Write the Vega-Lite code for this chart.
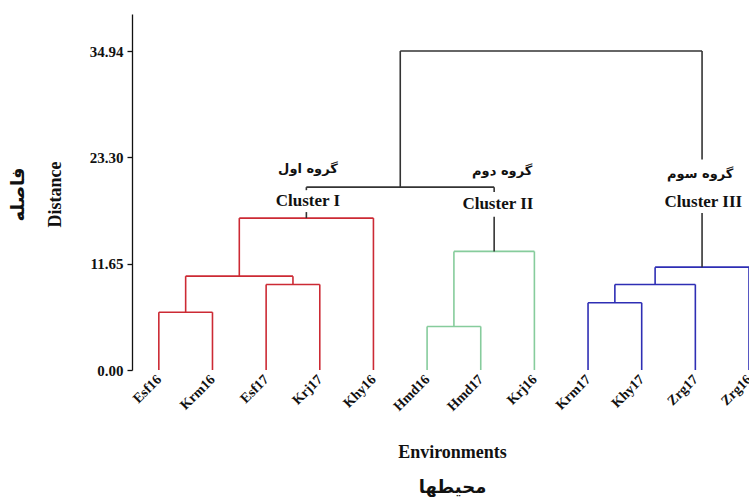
{
  "$schema": "https://vega.github.io/schema/vega-lite/v6.json",
  "autosize": {"type": "none"},
  "padding": {"left": 132, "top": 14, "right": 0, "bottom": 127},
  "width": 617,
  "height": 356,
  "background": "white",
  "config": {"view": {"stroke": null}},
  "datasets": {
    "segs": [
      {"x": 1, "x2": 1, "y": 0, "y2": 6.33, "g": "I"},
      {"x": 2, "x2": 2, "y": 0, "y2": 6.33, "g": "I"},
      {"x": 1, "x2": 2, "y": 6.33, "y2": 6.33, "g": "I"},
      {"x": 3, "x2": 3, "y": 0, "y2": 9.37, "g": "I"},
      {"x": 4, "x2": 4, "y": 0, "y2": 9.37, "g": "I"},
      {"x": 3, "x2": 4, "y": 9.37, "y2": 9.37, "g": "I"},
      {"x": 1.5, "x2": 1.5, "y": 6.33, "y2": 10.28, "g": "I"},
      {"x": 3.5, "x2": 3.5, "y": 9.37, "y2": 10.28, "g": "I"},
      {"x": 1.5, "x2": 3.5, "y": 10.28, "y2": 10.28, "g": "I"},
      {"x": 2.5, "x2": 2.5, "y": 10.28, "y2": 16.64, "g": "I"},
      {"x": 5, "x2": 5, "y": 0, "y2": 16.64, "g": "I"},
      {"x": 2.5, "x2": 5, "y": 16.64, "y2": 16.64, "g": "I"},
      {"x": 6, "x2": 6, "y": 0, "y2": 4.77, "g": "II"},
      {"x": 7, "x2": 7, "y": 0, "y2": 4.77, "g": "II"},
      {"x": 6, "x2": 7, "y": 4.77, "y2": 4.77, "g": "II"},
      {"x": 6.5, "x2": 6.5, "y": 4.77, "y2": 12.99, "g": "II"},
      {"x": 8, "x2": 8, "y": 0, "y2": 12.99, "g": "II"},
      {"x": 6.5, "x2": 8, "y": 12.99, "y2": 12.99, "g": "II"},
      {"x": 9, "x2": 9, "y": 0, "y2": 7.36, "g": "III"},
      {"x": 10, "x2": 10, "y": 0, "y2": 7.36, "g": "III"},
      {"x": 9, "x2": 10, "y": 7.36, "y2": 7.36, "g": "III"},
      {"x": 9.5, "x2": 9.5, "y": 7.36, "y2": 9.37, "g": "III"},
      {"x": 11, "x2": 11, "y": 0, "y2": 9.37, "g": "III"},
      {"x": 9.5, "x2": 11, "y": 9.37, "y2": 9.37, "g": "III"},
      {"x": 10.25, "x2": 10.25, "y": 9.37, "y2": 11.27, "g": "III"},
      {"x": 12, "x2": 12, "y": 0, "y2": 11.27, "g": "III"},
      {"x": 10.25, "x2": 12, "y": 11.27, "y2": 11.27, "g": "III"},
      {"x": 3.75, "x2": 3.75, "y": 16.64, "y2": 17.3, "g": "root"},
      {"x": 3.75, "x2": 3.75, "y": 19.7, "y2": 20.03, "g": "root"},
      {"x": 7.25, "x2": 7.25, "y": 12.99, "y2": 16.8, "g": "root"},
      {"x": 7.25, "x2": 7.25, "y": 19.5, "y2": 20.03, "g": "root"},
      {"x": 3.75, "x2": 7.25, "y": 20.03, "y2": 20.03, "g": "root"},
      {"x": 5.5, "x2": 5.5, "y": 20.03, "y2": 34.94, "g": "root"},
      {"x": 5.5, "x2": 11.125, "y": 34.94, "y2": 34.94, "g": "root"},
      {"x": 11.125, "x2": 11.125, "y": 23.07, "y2": 34.94, "g": "root"},
      {"x": 11.125, "x2": 11.125, "y": 11.27, "y2": 17.2, "g": "root"}
    ],
    "labels": [
      {"x": 3.78, "y": 18.47, "t": "Cluster I", "lang": "en"},
      {"x": 7.32, "y": 18.14, "t": "Cluster II", "lang": "en"},
      {"x": 11.15, "y": 18.4, "t": "Cluster III", "lang": "en"},
      {"x": 3.78, "y": 22.0, "t": "گروه اول", "lang": "fa"},
      {"x": 7.4, "y": 21.75, "t": "گروه دوم", "lang": "fa"},
      {"x": 11.09, "y": 21.42, "t": "گروه سوم", "lang": "fa"}
    ]
  },
  "layer": [
    {
      "data": {"name": "segs"},
      "mark": {"type": "rule", "strokeWidth": 1.6, "clip": true},
      "encoding": {
        "x": {
          "field": "x", "type": "quantitative",
          "scale": {"domain": [0.5, 12], "nice": false, "zero": false},
          "axis": {
            "values": [1, 2, 3, 4, 5, 6, 7, 8, 9, 10, 11, 12],
            "labelExpr": "['Esf16','Krm16','Esf17','Krj17','Khy16','Hmd16','Hmd17','Krj16','Krm17','Khy17','Zrg17','Zrg16'][datum.value-1]",
            "domain": false, "ticks": false, "grid": false,
            "labelAngle": -45, "labelAlign": "right", "labelBaseline": "middle",
            "labelPadding": 7, "labelFlush": false, "labelOverlap": false,
            "labelFont": "Liberation Serif", "labelFontWeight": "bold", "labelFontSize": 14, "labelColor": "#111",
            "title": ["Environments", "محیطها"],
            "titleFont": "Liberation Serif, DejaVu Sans", "titleFontSize": 18, "titleFontWeight": "bold", "titleColor": "#111",
            "titleX": 320, "titleY": 82, "titleAlign": "center", "titleBaseline": "middle", "titleLineHeight": 35
          }
        },
        "x2": {"field": "x2"},
        "y": {
          "field": "y", "type": "quantitative",
          "scale": {"domain": [0, 39], "nice": false},
          "axis": {
            "values": [0, 11.65, 23.3, 34.94], "format": ".2f",
            "grid": false, "domainColor": "#111", "domainWidth": 1.3, "tickColor": "#111", "tickSize": 5, "tickWidth": 1.3,
            "labelPadding": 4, "labelFont": "Liberation Serif", "labelFontWeight": "bold", "labelFontSize": 15, "labelColor": "#111",
            "title": ["فاصله", "Distance"],
            "titleFont": "Liberation Serif, DejaVu Sans", "titleFontSize": 18, "titleFontWeight": "bold", "titleColor": "#111",
            "titleAngle": 270, "titleX": -114, "titleY": 180, "titleAlign": "center", "titleBaseline": "middle", "titleLineHeight": 37
          }
        },
        "y2": {"field": "y2"},
        "color": {
          "field": "g", "type": "nominal",
          "scale": {"domain": ["I", "II", "III", "root"], "range": ["#cc2a34", "#86cc9c", "#2e2eb4", "#333333"]},
          "legend": null
        }
      }
    },
    {
      "data": {"name": "labels"},
      "transform": [{"filter": "datum.lang == 'en'"}],
      "mark": {"type": "text", "font": "Liberation Serif", "fontWeight": "bold", "fontSize": 17, "color": "#111"},
      "encoding": {
        "x": {"field": "x", "type": "quantitative"},
        "y": {"field": "y", "type": "quantitative"},
        "text": {"field": "t"}
      }
    },
    {
      "data": {"name": "labels"},
      "transform": [{"filter": "datum.lang == 'fa'"}],
      "mark": {"type": "text", "font": "DejaVu Sans", "fontWeight": "bold", "fontSize": 13, "color": "#111"},
      "encoding": {
        "x": {"field": "x", "type": "quantitative"},
        "y": {"field": "y", "type": "quantitative"},
        "text": {"field": "t"}
      }
    }
  ]
}
